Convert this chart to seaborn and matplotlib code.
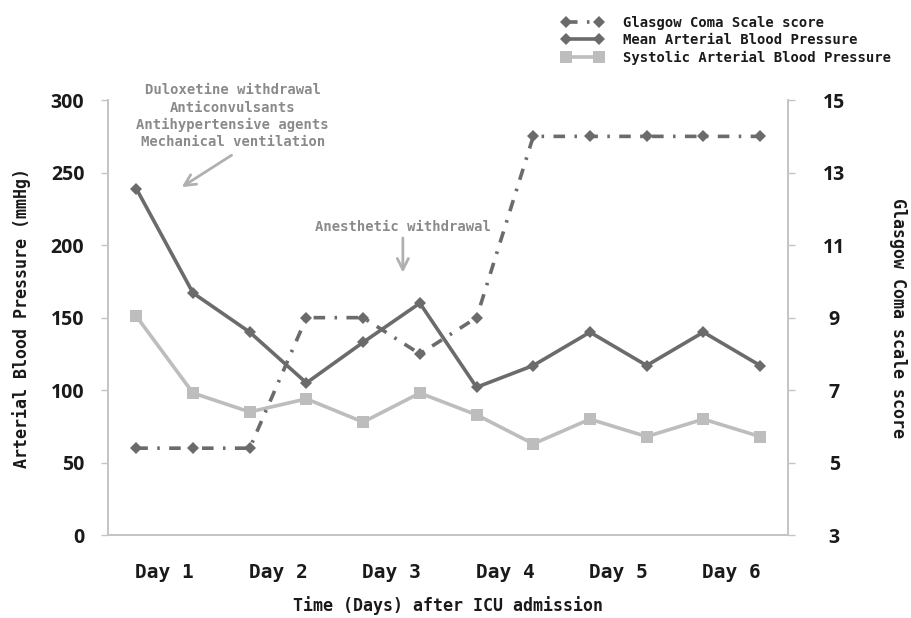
import numpy as np
import pandas as pd
import seaborn as sns
import matplotlib.pyplot as plt

sns.set_style("white")
plt.rcParams['font.family'] = ['DejaVu Sans Mono', 'DejaVu Sans']

days = ["Day 1", "Day 2", "Day 3", "Day 4", "Day 5", "Day 6"]
mean_abp = [239, 167, 140, 105, 133, 160, 102, 117, 140, 117, 140, 117]
systolic_abp = [151, 98, 85, 94, 78, 98, 83, 63, 80, 68, 80, 68]
gcs = [5.4, 5.4, 5.4, 9, 9, 8, 9, 14, 14, 14, 14, 14]

df = pd.DataFrame({
    "t": np.arange(len(mean_abp)),
    "map": mean_abp,
    "sbp": systolic_abp,
    "gcs": gcs,
})

dark = "#6b6b6b"
light = "#bdbdbd"
axis_col = "#c4c4c4"
txt = "#1a1a1a"
note = "#8a8a8a"

fig = plt.figure(figsize=(9.11, 6.18), dpi=100)
ax = fig.add_axes([0.1185, 0.134, 0.747, 0.704])
ax2 = ax.twinx()

sns.lineplot(data=df, x="t", y="sbp", ax=ax, color=light, lw=2.6, marker="s",
             markersize=9, markeredgewidth=0, label="Systolic Arterial Blood Pressure", legend=False)
sns.lineplot(data=df, x="t", y="map", ax=ax, color=dark, lw=2.6, marker="D",
             markersize=6, markeredgewidth=0, label="Mean Arterial Blood Pressure", legend=False)
sns.lineplot(data=df, x="t", y="gcs", ax=ax2, color=dark, lw=2.6, marker="D",
             markersize=6, markeredgewidth=0, linestyle=(0, (3.2, 2.6, 0.7, 2.6)),
             label="Glasgow Coma Scale score", legend=False)

ax.set_xlim(-0.5, len(mean_abp) - 0.5)
ax.set_ylim(0, 300)
ax2.set_ylim(3, 15)
ax.set_yticks(np.arange(0, 301, 50))
ax2.set_yticks(np.arange(3, 16, 2))

ax.set_xticks(np.arange(-0.5, len(mean_abp), 1), minor=True)
ax.set_xticks(np.arange(0.5, len(mean_abp), 2))
ax.set_xticklabels(days)
ax.tick_params(axis="x", which="major", length=0, pad=20)
ax.tick_params(axis="x", which="minor", length=6, color=axis_col, direction="out")
ax.tick_params(axis="y", length=5, color=axis_col, width=1, pad=12)
ax2.tick_params(axis="y", length=5, color=axis_col, width=1, pad=28)

for lab in ax.get_xticklabels():
    lab.set_fontsize(14)
    lab.set_fontweight("bold")
    lab.set_color(txt)
for lab in ax.get_yticklabels() + ax2.get_yticklabels():
    lab.set_family("Open Sans")
    lab.set_fontsize(14)
    lab.set_fontweight("bold")
    lab.set_color(txt)
for lab in ax2.get_yticklabels():
    lab.set_ha("center")

for a in (ax, ax2):
    a.spines["top"].set_visible(False)
    for s in ("left", "right", "bottom"):
        a.spines[s].set_color(axis_col)
        a.spines[s].set_linewidth(1.2)

ax.set_xlabel("Time (Days) after ICU admission", fontsize=12, fontweight="bold",
              color=txt, labelpad=10)
ax.set_ylabel("Arterial Blood Pressure (mmHg)", fontsize=12, fontweight="bold",
              color=txt, labelpad=14)
ax2.set_ylabel("Glasgow Coma scale score", fontsize=12, fontweight="bold",
               color=txt, rotation=270, labelpad=44)

ax.text(1.7, 266, "Duloxetine withdrawal\nAnticonvulsants\nAntihypertensive agents\nMechanical ventilation",
        ha="center", va="bottom", fontsize=10, fontweight="bold", color=note, linespacing=1.3)
ax.annotate("", xy=(0.8, 240), xytext=(1.68, 262),
            arrowprops=dict(arrowstyle="->", color="#b0b0b0", lw=2, mutation_scale=20,
                            shrinkA=0, shrinkB=0))
ax.text(4.7, 208, "Anesthetic withdrawal", ha="center", va="bottom",
        fontsize=10, fontweight="bold", color=note)
ax.annotate("", xy=(4.7, 181), xytext=(4.7, 205),
            arrowprops=dict(arrowstyle="->", color="#b0b0b0", lw=2, mutation_scale=20,
                            shrinkA=0, shrinkB=0))

h1, l1 = ax.get_legend_handles_labels()
h2, l2 = ax2.get_legend_handles_labels()
handles = h2 + h1[::-1]
labels = l2 + l1[::-1]
leg = fig.legend(handles, labels, loc="upper left", bbox_to_anchor=(0.603, 0.995),
                 frameon=False, handlelength=3.0, labelspacing=0.25, handletextpad=1.4,
                 numpoints=2, prop={"size": 10, "weight": "bold"})
for t in leg.get_texts():
    t.set_color(txt)

fig.savefig("out.png", dpi=100)
